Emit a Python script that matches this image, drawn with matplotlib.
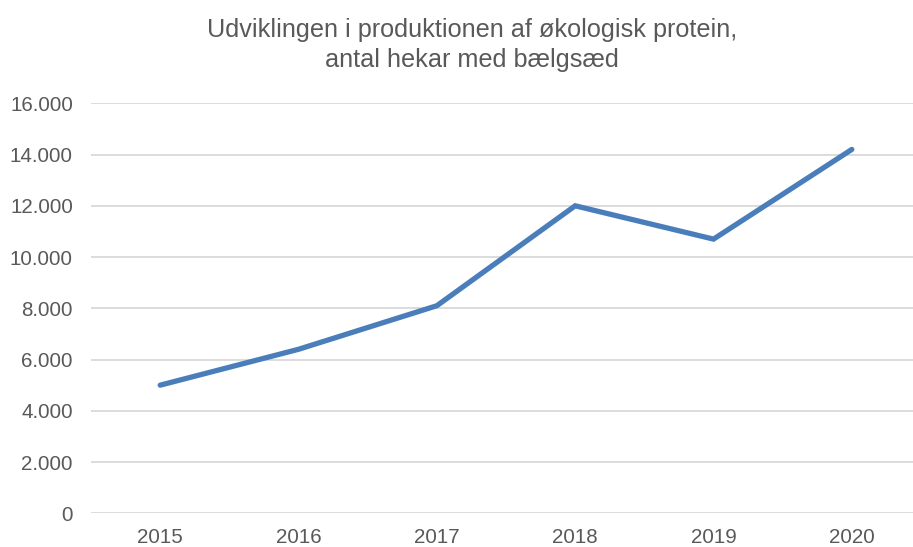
import matplotlib
matplotlib.use("Agg")
import matplotlib.pyplot as plt

years = ["2015", "2016", "2017", "2018", "2019", "2020"]
hectares = [5000, 6400, 8100, 12000, 10700, 14200]
yticks = [0, 2000, 4000, 6000, 8000, 10000, 12000, 14000, 16000]
ytick_labels = ["0", "2.000", "4.000", "6.000", "8.000", "10.000", "12.000", "14.000", "16.000"]
title = "Udviklingen i produktionen af økologisk protein,\nantal hekar med bælgsæd"

plt.rcParams['font.family'] = ['Liberation Sans', 'DejaVu Sans']
fig = plt.figure(figsize=(9.13, 5.47), dpi=100)
W, H = 913, 547
left, right = 91, 921
bottom, top = 513.3, 103.3
ax = fig.add_axes([left / W, 1 - bottom / H, (right - left) / W, (bottom - top) / H])

x = list(range(len(years)))
ax.plot(x, hectares, color='#4a7ebb', linewidth=3.8, solid_capstyle='round', solid_joinstyle='miter', zorder=3)
ax.set_xlim(-0.5, len(years) - 0.5)
ax.set_ylim(0, 16000)
ax.set_yticks(yticks)
ax.set_yticklabels(ytick_labels)
ax.set_xticks(x)
ax.set_xticklabels(years)
ax.yaxis.grid(True, color='#d9d9d9', linewidth=1.3)
ax.set_axisbelow(True)
for s in ax.spines.values():
    s.set_visible(False)
ax.tick_params(axis='both', length=0, colors='#595959', labelsize=14.8)
ax.tick_params(axis='y', pad=13)
ax.tick_params(axis='x', pad=10.5)

fig.text(472 / W, 1 - 45 / H, title, ha='center', va='center', fontsize=18.2, color='#595959', linespacing=1.27)
fig.savefig("out.png", dpi=100)
